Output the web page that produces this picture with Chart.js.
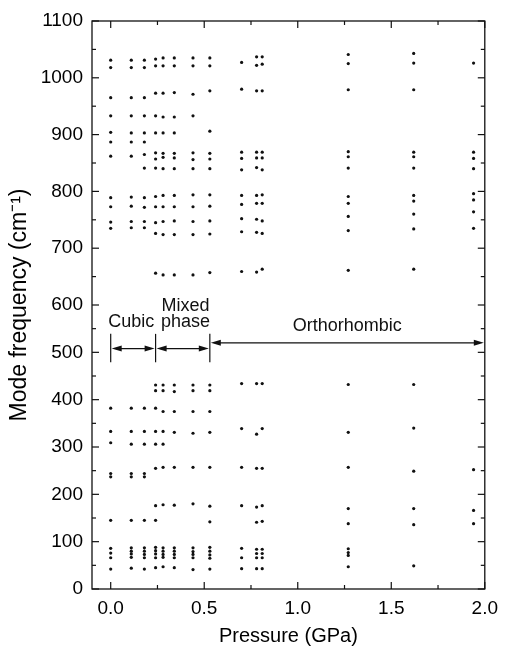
<!DOCTYPE html>
<html lang="en">
<head>
  <meta charset="UTF-8">
  <title>Mode frequency vs pressure</title>
  <style>
    html, body { margin: 0; padding: 0; background: #fff; }
    #wrap { width: 506px; height: 654px; }
  </style>
</head>
<body>
  <div id="wrap"><canvas id="chart" width="506" height="654"></canvas></div>

  <script src="https://cdn.jsdelivr.net/npm/chart.js"></script>
  <script>
    // pressure columns (GPa) and the mode frequencies (cm-1) measured at each
    const pressures = [0.0, 0.11, 0.18, 0.24, 0.28, 0.34, 0.44, 0.53, 0.70, 0.78, 0.81, 1.27, 1.62, 1.94];

    const modesP000 = [1031, 1018, 965, 933, 904, 887, 862, 789, 773, 746, 735, 382, 333, 309, 244, 237, 145, 86, 76, 66, 42];
    const modesP011 = [1031, 1018, 965, 933, 903, 887, 862, 790, 774, 747, 736, 382, 333, 306, 244, 237, 145, 87, 80, 74, 67, 44];
    const modesP018 = [1031, 1018, 965, 933, 903, 887, 865, 841, 789, 772, 747, 736, 382, 333, 306, 244, 237, 145, 87, 80, 73, 66, 42];
    const modesP024 = [1033, 1021, 973, 933, 903, 868, 857, 841, 791, 773, 745, 726, 656, 431, 419, 382, 333, 306, 255, 176, 145, 88, 81, 74, 66, 45];
    const modesP028 = [1035, 1021, 973, 931, 903, 867, 860, 840, 793, 773, 747, 724, 653, 431, 419, 375, 333, 306, 257, 178, 87, 80, 73, 67, 47];
    const modesP034 = [1035, 1021, 974, 931, 903, 867, 859, 840, 793, 773, 748, 724, 653, 431, 417, 375, 331, 257, 177, 87, 80, 73, 66, 45];
    const modesP044 = [1035, 1021, 971, 933, 868, 856, 840, 794, 773, 747, 724, 653, 431, 419, 375, 329, 257, 180, 87, 79, 73, 66, 41];
    const modesP053 = [1035, 1021, 977, 906, 867, 857, 840, 794, 774, 748, 725, 657, 431, 419, 375, 331, 257, 175, 142, 88, 80, 72, 65, 42];
    const modesP070 = [1027, 980, 869, 858, 838, 793, 777, 752, 729, 659, 434, 339, 257, 176, 86, 66, 43];
    const modesP078 = [1037, 1022, 977, 869, 859, 842, 793, 779, 751, 728, 658, 434, 327, 255, 173, 141, 84, 75, 66, 43];
    const modesP081 = [1037, 1024, 977, 869, 859, 838, 794, 779, 748, 726, 663, 434, 339, 255, 176, 143, 84, 75, 66, 43];
    const modesP127 = [1041, 1025, 979, 870, 861, 841, 791, 779, 756, 731, 661, 432, 331, 257, 170, 138, 85, 77, 71, 47];
    const modesP162 = [1043, 1026, 979, 869, 861, 841, 793, 783, 760, 734, 663, 432, 340, 249, 170, 136, 49];
    const modesP194 = [1026, 869, 858, 840, 796, 785, 764, 735, 252, 166, 138];

    const modesByColumn = [modesP000, modesP011, modesP018, modesP024, modesP028, modesP034, modesP044,
                           modesP053, modesP070, modesP078, modesP081, modesP127, modesP162, modesP194];

    // axis ticks
    const xMajor = [0.0, 0.5, 1.0, 1.5, 2.0];
    const xMinor = [0.25, 0.75, 1.25, 1.75];
    const yMajor = [0, 100, 200, 300, 400, 500, 600, 700, 800, 900, 1000, 1100];
    const yMinor = [50, 150, 250, 350, 450, 550, 650, 750, 850, 950, 1050];

    // the frequency axis of the original is drawn in two halves:
    // 0-600 fills the lower half of the frame and 600-1100 the upper half
    const yBreak = 600;

    // phase regions drawn as brackets
    const phaseBounds = [0.0, 0.24, 0.53, 2.0];
    const arrowY = [508, 508, 520];
    const bracketLow = 479, bracketHigh = 539;
    const phaseText = ["Cubic", "Mixed", "phase", "Orthorhombic"];
    const phaseTextX = [0.11, 0.40, 0.40, 1.265];
    const phaseTextY = [563, 598, 563, 556];

    const points = [];
    pressures.forEach((p, i) => {
      modesByColumn[i].forEach(f => points.push({ x: p, y: f }));
    });

    class SplitScale extends Chart.LinearScale {
      getPixelForValue(value) {
        const f = value <= yBreak
          ? 0.5 * (value - this.min) / (yBreak - this.min)
          : 0.5 + 0.5 * (value - yBreak) / (this.max - yBreak);
        return this.bottom - f * (this.bottom - this.top);
      }
      getValueForPixel(pixel) {
        const f = (this.bottom - pixel) / (this.bottom - this.top);
        return f <= 0.5
          ? this.min + (f / 0.5) * (yBreak - this.min)
          : yBreak + ((f - 0.5) / 0.5) * (this.max - yBreak);
      }
    }
    SplitScale.id = "split";
    SplitScale.defaults = Chart.LinearScale.defaults;
    Chart.register(SplitScale);

    const ink = "#111";
    const family = "'Liberation Sans', Arial, Helvetica, sans-serif";
    const font = { family: family, size: 19 };

    function line(ctx, x1, y1, x2, y2) {
      ctx.beginPath();
      ctx.moveTo(x1, y1);
      ctx.lineTo(x2, y2);
      ctx.stroke();
    }

    function head(ctx, x, y, dir) {
      // filled arrow head, tip at (x, y), dir = -1 points left, 1 points right
      ctx.beginPath();
      ctx.moveTo(x, y);
      ctx.lineTo(x - dir * 10, y - 3);
      ctx.lineTo(x - dir * 10, y + 3);
      ctx.closePath();
      ctx.fill();
    }

    const framePlugin = {
      id: "frame",
      afterDraw(chart) {
        const { ctx, chartArea: a, scales: { x, y } } = chart;
        ctx.save();
        ctx.strokeStyle = ink;
        ctx.fillStyle = ink;
        ctx.lineWidth = 1.3;
        ctx.strokeRect(a.left, a.top, a.right - a.left, a.bottom - a.top);

        ctx.lineWidth = 1.2;
        xMajor.forEach(v => {
          const px = x.getPixelForValue(v);
          line(ctx, px, a.bottom, px, a.bottom - 7);
          line(ctx, px, a.top, px, a.top + 7);
        });
        xMinor.forEach(v => {
          const px = x.getPixelForValue(v);
          line(ctx, px, a.bottom, px, a.bottom - 4);
          line(ctx, px, a.top, px, a.top + 4);
        });
        yMajor.forEach(v => {
          const py = y.getPixelForValue(v);
          line(ctx, a.left, py, a.left + 7, py);
          line(ctx, a.right, py, a.right - 7, py);
        });
        yMinor.forEach(v => {
          const py = y.getPixelForValue(v);
          line(ctx, a.left, py, a.left + 4, py);
          line(ctx, a.right, py, a.right - 4, py);
        });

        // phase brackets
        const yLo = y.getPixelForValue(bracketLow);
        const yHi = y.getPixelForValue(bracketHigh);
        phaseBounds.slice(0, 3).forEach(b => {
          const px = x.getPixelForValue(b);
          line(ctx, px, yLo, px, yHi);
        });
        for (let i = 0; i < 3; i++) {
          const x1 = x.getPixelForValue(phaseBounds[i]) + 1;
          const x2 = x.getPixelForValue(phaseBounds[i + 1]) - 1;
          const py = y.getPixelForValue(arrowY[i]);
          line(ctx, x1 + 4, py, x2 - 4, py);
          head(ctx, x1, py, -1);
          head(ctx, x2, py, 1);
        }

        ctx.font = `18px ${family}`;
        ctx.textAlign = "center";
        ctx.textBaseline = "middle";
        phaseText.forEach((t, i) => {
          ctx.fillText(t, x.getPixelForValue(phaseTextX[i]), y.getPixelForValue(phaseTextY[i]));
        });
        ctx.restore();
      }
    };

    new Chart(document.getElementById("chart").getContext("2d"), {
      type: "scatter",
      data: {
        datasets: [{
          data: points,
          pointRadius: 1.6,
          pointBorderWidth: 0,
          pointBackgroundColor: ink,
          pointHoverRadius: 1.6
        }]
      },
      options: {
        responsive: false,
        animation: false,
        layout: { padding: { top: 21, right: 18, left: 0, bottom: 0 } },
        plugins: { legend: { display: false }, tooltip: { enabled: false } },
        scales: {
          x: {
            type: "linear",
            min: -0.1,
            max: 2.0,
            grid: { display: false, drawTicks: false },
            border: { display: false },
            afterBuildTicks: s => { s.ticks = xMajor.map(v => ({ value: v })); },
            afterFit: s => { s.height = 65; },
            ticks: { color: "#000", font: font, padding: 8, maxRotation: 0, autoSkip: false,
                     callback: v => Number(v).toFixed(1) },
            title: { display: true, text: "Pressure (GPa)", color: "#000", font: { family: family, size: 20 },
                     padding: { top: 0, bottom: 6 } }
          },
          y: {
            type: "split",
            min: 0,
            max: 1100,
            grid: { display: false, drawTicks: false },
            border: { display: false },
            afterBuildTicks: s => { s.ticks = yMajor.map(v => ({ value: v })); },
            afterFit: s => { s.width = 92; },
            ticks: { color: "#000", font: font, padding: 9, autoSkip: false,
                     callback: v => String(v) },
            title: { display: true, text: "Mode frequency (cm\u207B\u00B9)", color: "#000",
                     font: { family: family, size: 23 }, padding: { top: 6, bottom: 0 } }
          }
        }
      },
      plugins: [framePlugin]
    });
  </script>
</body>
</html>
